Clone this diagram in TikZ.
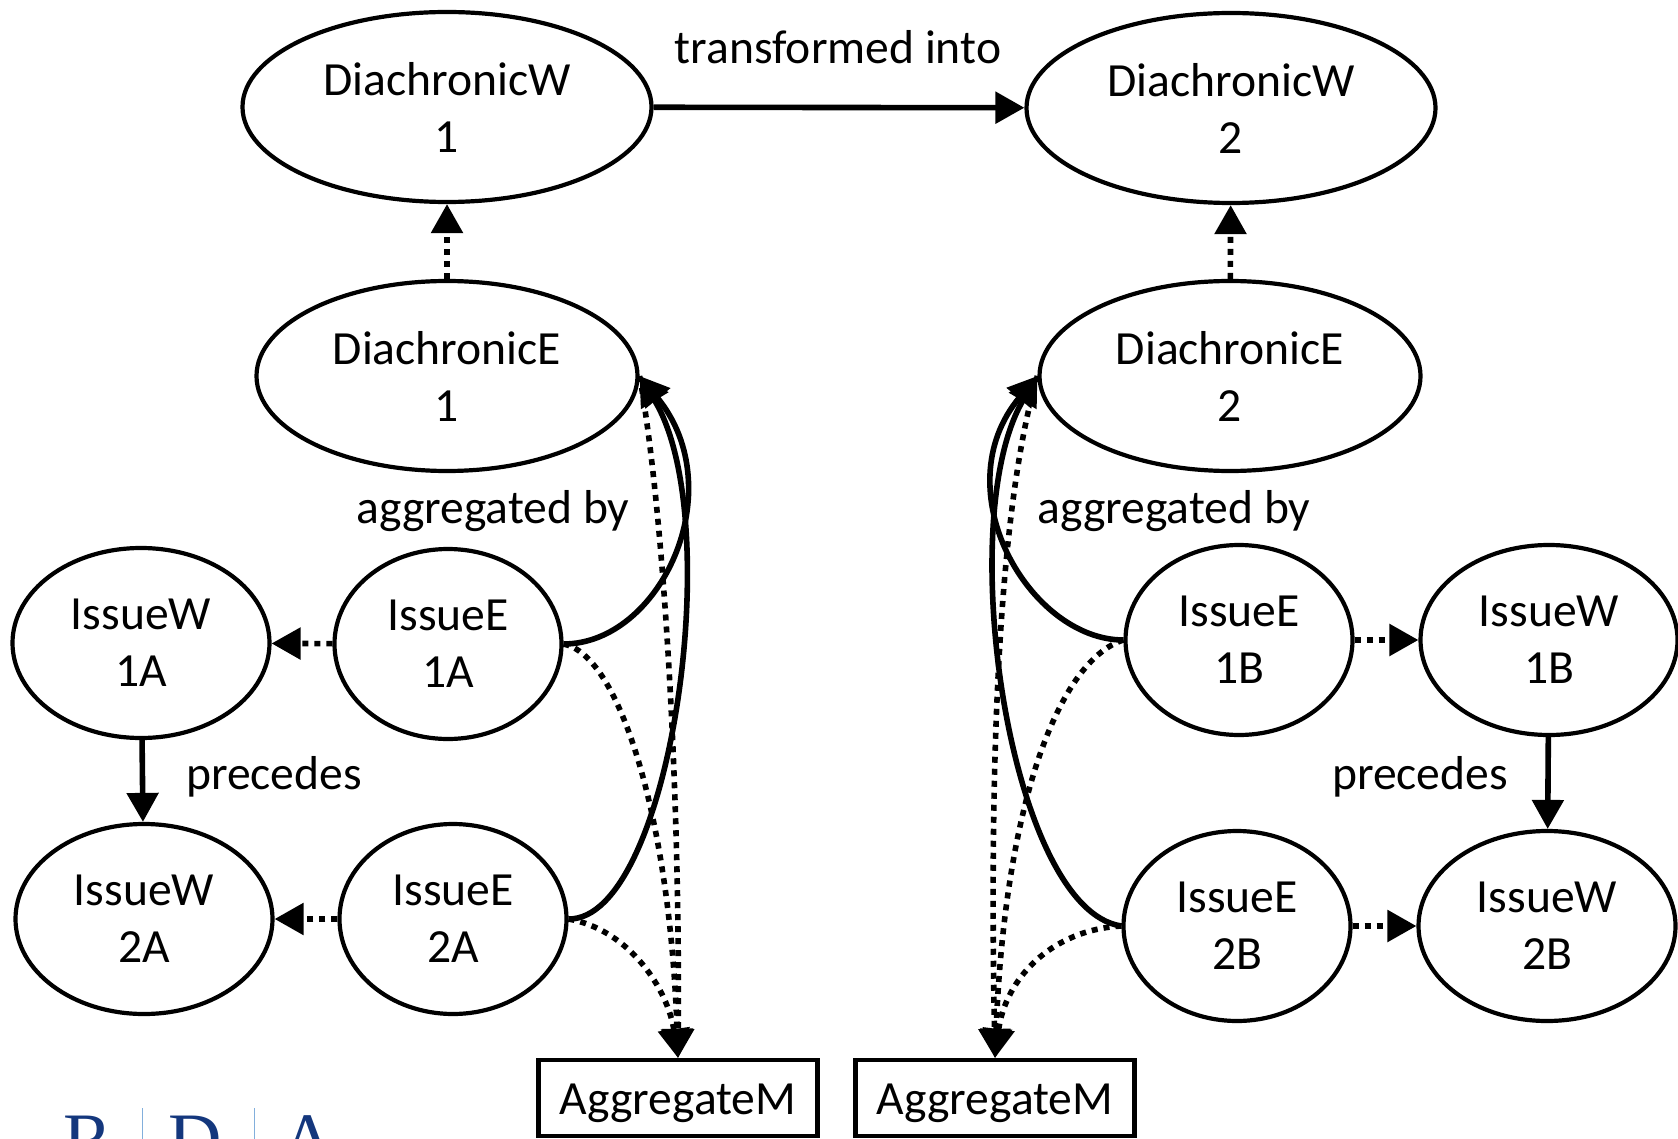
\documentclass[tikz,border=0pt]{standalone}
\usepackage{fontspec}
\setmainfont{Carlito}
\newfontfamily\logofont{Liberation Serif}
\usetikzlibrary{arrows.meta,shapes.geometric}
\newcommand{\boxtext}[1]{\raisebox{-6pt}[32pt][12pt]{#1}}
\tikzset{
  base/.style={draw=black,line width=4.2pt,align=center,inner sep=0pt,font=\fontsize{47.6}{57}\selectfont},
  oval/.style={base,ellipse},
  bigw/.style={oval,minimum width=409pt,minimum height=190pt},
  bige/.style={oval,minimum width=381pt,minimum height=190pt},
  smalle/.style={oval,minimum width=227pt,minimum height=190pt},
  smallw/.style={oval,minimum width=257pt,minimum height=190pt},
  boxm/.style={base,rectangle,minimum width=279pt,minimum height=76pt},
  lbl/.style={inner sep=0pt,font=\fontsize{47.6}{57}\selectfont},
  solidar/.style={line width=5.6pt,-{Triangle[length=29pt,width=31pt]}},
  dotar/.style={line width=5.6pt,dash pattern=on 6pt off 6pt,-{Triangle[length=29pt,width=31pt]}},
  logoletter/.style={inner sep=0pt,anchor=base,text=logoblue,font=\fontsize{74}{74}\selectfont\logofont},
  logoline/.style={draw=logoline,line width=1pt}
}
\definecolor{logoblue}{RGB}{20,55,125}
\definecolor{logoline}{RGB}{130,175,220}
\begin{document}
\begin{tikzpicture}[x=1pt,y=-1pt]
\useasboundingbox (0,0) rectangle (1678,1139);
\node[bigw] (dw1) at (447,107) {DiachronicW\\1};
\node[bigw] (dw2) at (1231,108) {DiachronicW\\2};
\node[bige] (de1) at (447,376) {DiachronicE\\1};
\node[bige] (de2) at (1230,376) {DiachronicE\\2};
\node[smalle] (ie1a) at (448,644) {IssueE\\1A};
\node[smallw] (iw1a) at (141,643) {IssueW\\1A};
\node[smalle] (ie2a) at (453,919) {IssueE\\2A};
\node[smallw] (iw2a) at (144,919) {IssueW\\2A};
\node[smalle] (ie1b) at (1239,640) {IssueE\\1B};
\node[smallw] (iw1b) at (1549,640) {IssueW\\1B};
\node[smalle] (ie2b) at (1237,926) {IssueE\\2B};
\node[smallw] (iw2b) at (1547,926) {IssueW\\2B};
\node[boxm] (am1) at (678,1098) {\boxtext{AggregateM}};
\node[boxm] (am2) at (995,1098) {\boxtext{AggregateM}};
\node[lbl] (t1) at (838,47) {transformed into};
\node[lbl] (a1) at (493,511) {aggregated by};
\node[lbl] (a2) at (1174,511) {aggregated by};
\node[lbl] (p1) at (274,777) {precedes};
\node[lbl] (p2) at (1420,777) {precedes};
\draw[solidar] (dw1) -- (dw2);
\draw[dotar] (de1) -- (dw1);
\draw[dotar] (de2) -- (dw2);
\draw[dotar] (ie1a) -- (iw1a);
\draw[dotar] (ie2a) -- (iw2a);
\draw[dotar] (ie1b) -- (iw1b);
\draw[dotar] (ie2b) -- (iw2b);
\draw[solidar] (iw1a) -- (iw2a);
\draw[solidar] (iw1b) -- (iw2b);
% left group
\draw[solidar] (ie1a.east) .. controls (660,644) and (733,490) .. (de1.east);
\draw[solidar] (ie2a.east) .. controls (670,920) and (728,520) .. (de1.east);
\draw[dotar] (de1.east) .. controls (665,520) and (680,800) .. (am1.north);
\draw[dotar] (ie1a.east) .. controls (620,655) and (670,820) .. (am1.north);
\draw[dotar] (ie2a.east) .. controls (630,930) and (668,990) .. (am1.north);
% right group
\draw[solidar] (ie1b.west) .. controls (1030,640) and (942,490) .. (de2.west);
\draw[solidar] (ie2b.west) .. controls (1010,910) and (952,520) .. (de2.west);
\draw[dotar] (de2.west) .. controls (995,520) and (990,800) .. (am2.north);
\draw[dotar] (ie1b.west) .. controls (1060,660) and (1005,800) .. (am2.north);
\draw[dotar] (ie2b.west) .. controls (1050,930) and (1005,980) .. (am2.north);
% cropped logo
\begin{scope}
\clip (0,0) rectangle (1678,1139);
\node[logoletter] (lr) at (88,1164) {R};
\node[logoletter] (ld) at (195,1164) {D};
\node[logoletter] (la) at (308,1164) {A};
\draw[logoline] (142,1108) -- (142,1139);
\draw[logoline] (254,1108) -- (254,1139);
\end{scope}
\end{tikzpicture}
\end{document}
